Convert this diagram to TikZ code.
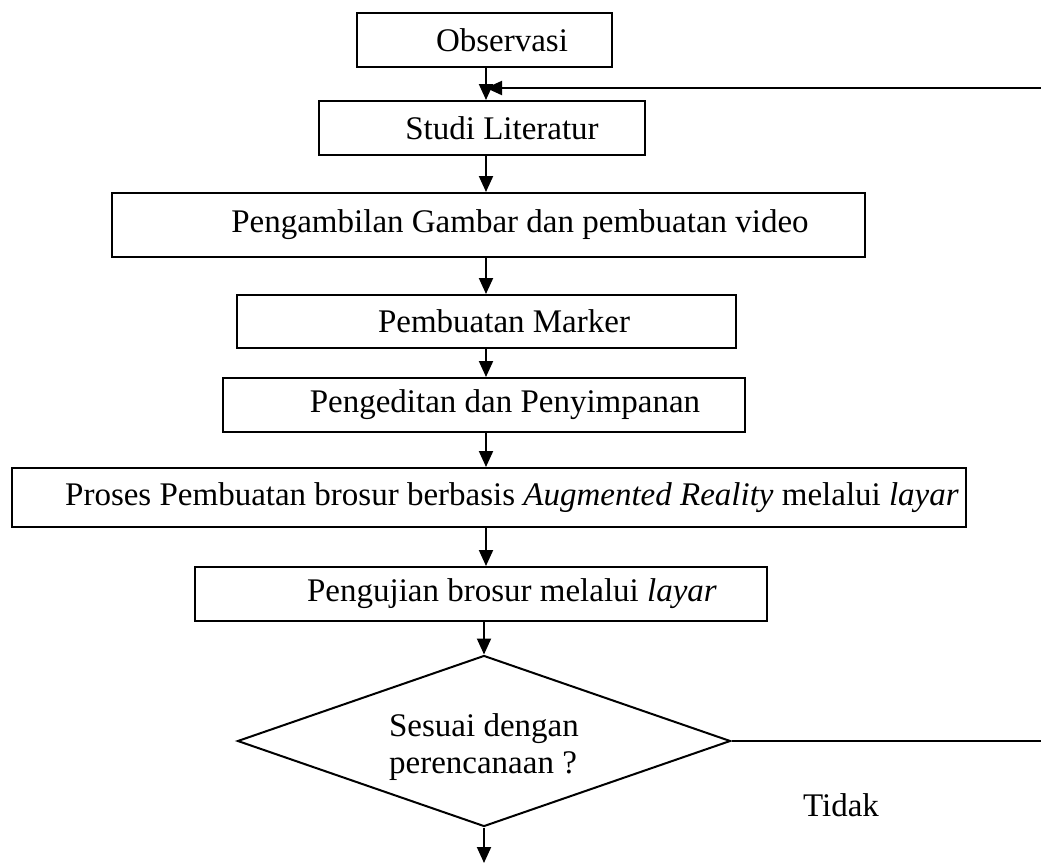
\documentclass[tikz,border=0pt]{standalone}
\usepackage{fontspec}
\setmainfont{Liberation Serif}
\usetikzlibrary{arrows.meta,shapes.geometric}

\begin{document}
\begin{tikzpicture}[x=0.5pt, y=-0.5pt
        , every node/.style={font=\fontsize{16.5}{18.5}\selectfont}
        , box/.style={draw, line width=1pt, rectangle, inner sep=0pt, minimum height=27pt}
        , flow/.style={line width=1pt, -{Triangle[length=8pt,width=7pt]}}
    ]
    \useasboundingbox (0,0) rectangle (1041,863);

    %% the main column
    \coordinate (axis) at (486,0);
    \node[box, minimum width=127.5pt] (obs) at (484.5,40) {\hspace*{17.5pt}Observasi};
    \node[box, minimum width=163pt] (studi) at (482,128) {\hspace*{20pt}Studi Literatur};
    \node[box, minimum width=376.5pt, minimum height=32pt] (ambil) at (488.5,225)
        {\hspace*{31.5pt}Pengambilan Gambar dan pembuatan video};
    \node[box, minimum width=249.5pt, minimum height=26.5pt] (marker) at (486.5,321.5)
        {\hspace*{17.5pt}Pembuatan Marker};
    \node[box, minimum width=261pt] (edit) at (484,405) {\hspace*{21pt}Pengeditan dan Penyimpanan};
    \node[box, minimum width=477pt, minimum height=29.5pt] (proses) at (489,497.5)
        {\hspace*{23pt}Proses Pembuatan brosur berbasis \textit{Augmented Reality} melalui \textit{layar}};
    \node[box, minimum width=286pt] (uji) at (481,594) {\hspace*{31pt}Pengujian brosur melalui \textit{layar}};

    % decision
    \node[diamond, draw, line width=1pt, inner sep=0pt, aspect=2.9
        , minimum width=246.5pt, minimum height=85.5pt, align=left
    ] (cek) at (484,741)
        {\raisebox{-3pt}[\height][\depth]{Sesuai dengan}\\\raisebox{-3pt}[\height][\depth]{perencanaan ?}};
    \node[] (tidak) at (841,805) {Tidak};

    % arrows down
    \draw[flow] (obs.south -| axis) -- (studi.north -| axis);
    \draw[flow] (studi.south -| axis) -- (ambil.north -| axis);
    \draw[flow] (ambil.south -| axis) -- (marker.north -| axis);
    \draw[flow] (marker.south -| axis) -- (edit.north -| axis);
    \draw[flow] (edit.south -| axis) -- (proses.north -| axis);
    \draw[flow] (proses.south -| axis) -- (uji.north -| axis);
    \draw[flow] (uji.south -| cek.north) -- (cek.north);
    \coordinate (next) at (484,863);
    \draw[flow] (cek.south) -- (next);

    % loop back (Tidak)
    \coordinate (loopA) at (1041,741);
    \coordinate (loopB) at (1041,88);
    \draw[line width=1pt] (cek.east) -- (loopA);
    \draw[flow] (loopB) -- (loopB -| axis);
\end{tikzpicture}
\end{document}
